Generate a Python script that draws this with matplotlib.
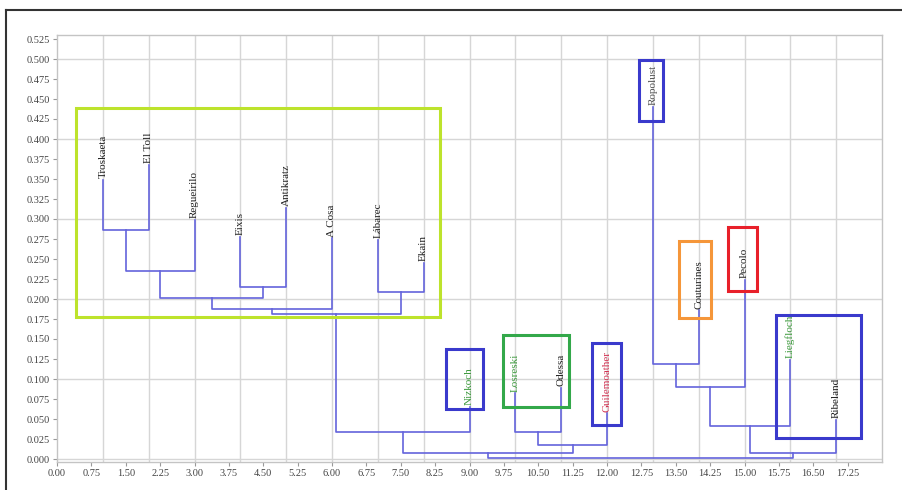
import numpy as np
import matplotlib
matplotlib.use('Agg')
import matplotlib.pyplot as plt
from matplotlib.patches import Rectangle
from matplotlib.lines import Line2D

# leaves (left to right) and the height of each leaf stem
leaf_names = ['Troskaeta', 'El Toll', 'Regueirilo', 'Eixis', 'Antikratz', 'A Cosa',
              'Lábarec', 'Ekain', 'Nizkoch', 'Losreski', 'Odessa', 'Guilemoather',
              'Ropolust', 'Couturines', 'Pecolo', 'Liegfloch', 'Ribeland']
leaf_heights = [0.349, 0.3675, 0.299, 0.2775, 0.314, 0.276, 0.274, 0.245,
                0.065, 0.082, 0.089, 0.057, 0.44, 0.186, 0.224, 0.124, 0.049]
leaf_colors = ['#222222'] * 8 + ['#3c9a3c', '#3c9a3c', '#222222', '#d03050',
                                 '#555555', '#222222', '#222222', '#3c9a3c', '#222222']

# merges: (child a, child b, height); new node ids start after the leaves
merge_a = [0, 17, 3, 6, 18, 21, 22, 23, 9, 25, 24, 12, 28, 29, 30, 27]
merge_b = [1, 2, 4, 7, 19, 5, 20, 8, 10, 11, 26, 13, 14, 15, 16, 31]
merge_h = [0.286, 0.235, 0.215, 0.209, 0.201, 0.188, 0.181, 0.034,
           0.034, 0.0175, 0.008, 0.119, 0.090, 0.041, 0.008, 0.001]

# highlight boxes: x0, x1, y0, y1, colour
box_x0 = [0.41, 8.49, 9.73, 11.67, 12.69, 13.56, 14.65, 15.69]
box_x1 = [8.36, 9.29, 11.17, 12.30, 13.23, 14.26, 15.28, 17.54]
box_y0 = [0.1775, 0.0625, 0.065, 0.0425, 0.4225, 0.176, 0.21, 0.0265]
box_y1 = [0.439, 0.1375, 0.155, 0.145, 0.499, 0.2725, 0.29, 0.18]
box_colors = ['#bde32c', '#3a3acc', '#33a84a', '#3a3acc', '#3a3acc',
              '#f5963a', '#e8202a', '#3a3acc']

fig = plt.figure(figsize=(9.02, 4.9), dpi=100)
ax = fig.add_axes([57/902, 28/490, 825/902, 427/490])

# grid
for gx in range(1, 18):
    ax.axvline(gx, color='#d6d6d6', lw=1.0, zorder=0)
for gy in np.arange(0, 0.51, 0.1):
    ax.axhline(gy, color='#d6d6d6', lw=1.0, zorder=0)

line_c = '#6464dc'
xpos = list(range(1, len(leaf_names) + 1))
ypos = list(leaf_heights)
for a, b, h in zip(merge_a, merge_b, merge_h):
    ax.plot([xpos[a], xpos[a], xpos[b], xpos[b]], [ypos[a], h, h, ypos[b]],
            color=line_c, lw=1.2, zorder=2)
    xpos.append((xpos[a] + xpos[b]) / 2)
    ypos.append(h)

for i, name in enumerate(leaf_names):
    ax.text(i + 1, leaf_heights[i] + 0.002, name, rotation=90, ha='center', va='bottom',
            fontsize=8, family='Liberation Serif', color=leaf_colors[i], zorder=3)

for x0, x1, y0, y1, c in zip(box_x0, box_x1, box_y0, box_y1, box_colors):
    ax.add_patch(Rectangle((x0, y0), x1 - x0, y1 - y0, fill=False, ec=c, lw=2.2, zorder=4))

ax.set_xlim(0, 18)
ax.set_ylim(-0.00375, 0.53)
xt = np.arange(0, 17.26, 0.75)
yt = np.arange(0, 0.526, 0.025)
ax.set_xticks(xt)
ax.set_xticklabels(['%.2f' % v for v in xt])
ax.set_yticks(yt)
ax.set_yticklabels(['%.3f' % v for v in yt])
for lab in ax.get_xticklabels() + ax.get_yticklabels():
    lab.set_family('Liberation Serif')
    lab.set_fontsize(7.5)
    lab.set_color('#444444')
ax.tick_params(length=3, width=0.8, color='#999999', pad=2)
for s in ax.spines.values():
    s.set_color('#c4c4c4')
    s.set_linewidth(1.0)

# outer frame of the figure
fig.add_artist(Line2D([6/902, 1], [1 - 10/490, 1 - 10/490], transform=fig.transFigure,
                      color='#333333', lw=1.5))
fig.add_artist(Line2D([6/902, 6/902], [0, 1 - 10/490], transform=fig.transFigure,
                      color='#333333', lw=1.5))

fig.savefig('out.png', dpi=100)
